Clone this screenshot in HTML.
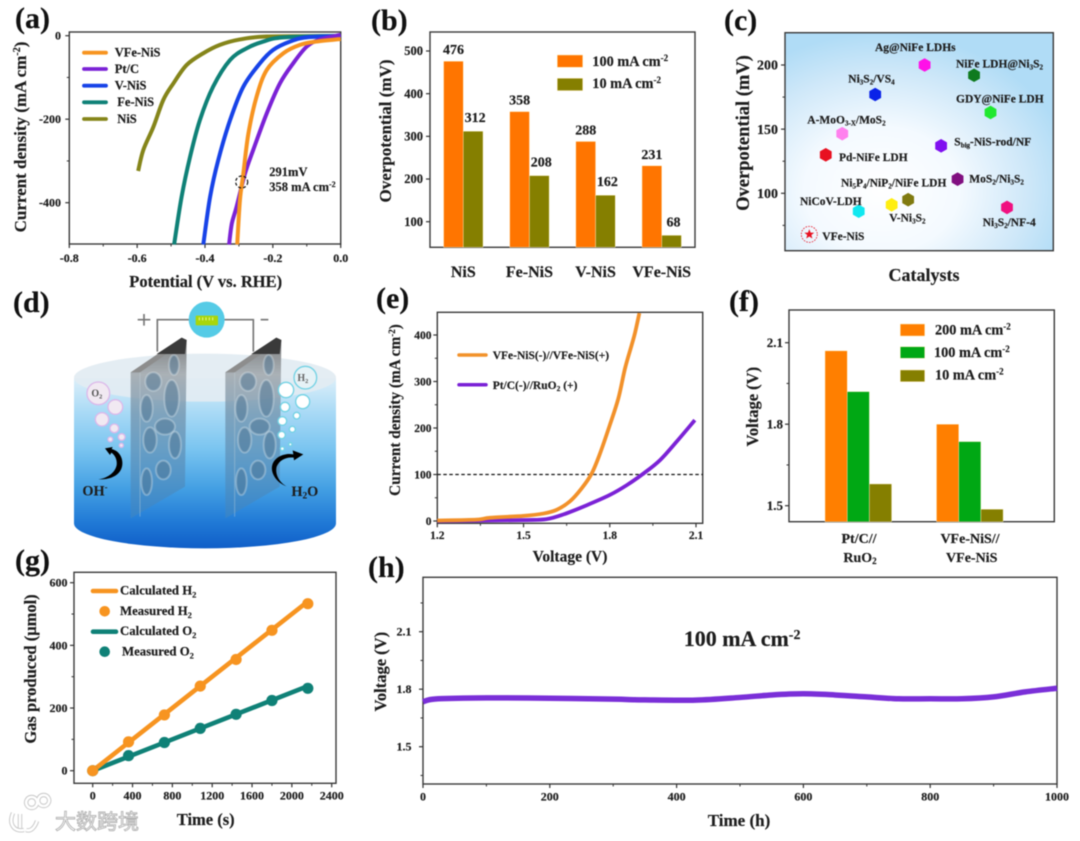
<!DOCTYPE html>
<html lang="en">
<head>
<meta charset="utf-8">
<title>Electrocatalyst performance figure</title>
<style>
html,body{margin:0;padding:0;background:#fff;width:1080px;height:841px;overflow:hidden}
svg{display:block;filter:blur(.45px)}
text{font-family:"Liberation Serif","Noto Serif CJK SC",serif;font-weight:bold;fill:#1d1d1d;stroke:#1d1d1d;stroke-width:.18px}
.pl{font-size:30px;fill:#111}
.sm{font-size:11.5px}
.wm{font-family:"Noto Sans CJK SC","WenQuanYi Zen Hei",sans-serif;font-weight:400;font-size:21px;fill:#fff;stroke:#b0b0b0;stroke-width:.9px}
</style>
</head>
<body>
<svg id="fig" xmlns="http://www.w3.org/2000/svg" width="1080" height="841" viewBox="0 0 1080 841">
<defs>
<radialGradient id="cBg" cx="36%" cy="72%" r="72%">
<stop offset="0" stop-color="#ffffff"/><stop offset=".4" stop-color="#f4faff"/><stop offset=".75" stop-color="#cfe8f9"/><stop offset="1" stop-color="#b0dcf6"/>
</radialGradient>
<linearGradient id="water" x1="0" y1="0" x2="0" y2="1">
<stop offset="0" stop-color="#dceff9"/><stop offset=".2" stop-color="#a9daf6"/><stop offset=".42" stop-color="#79c4f0"/><stop offset=".65" stop-color="#439fe3"/><stop offset=".85" stop-color="#2079d6"/><stop offset="1" stop-color="#0f5ec8"/>
</linearGradient>
<linearGradient id="elec" x1="0" y1="0" x2="0" y2="1">
<stop offset="0" stop-color="#6f6f6f" stop-opacity=".92"/><stop offset=".2" stop-color="#a2a9ae" stop-opacity=".88"/><stop offset=".42" stop-color="#6f8fa8" stop-opacity=".72"/><stop offset="1" stop-color="#3f86c2" stop-opacity=".6"/>
</linearGradient>
<g id="electrode">
<polygon points="392,262 545,160 560,165 555,605 392,700" fill="url(#elec)"/>
<polygon points="392,262 545,158 560,165 420,262" fill="#8d8d8d"/>
<polygon points="470,207 545,158 560,165 555,207" fill="#3a3a3a"/>
<line x1="420" y1="262" x2="420" y2="695" stroke="#c4d2da" stroke-opacity=".4" stroke-width="3"/>
<g fill="#4d7391" fill-opacity=".5" stroke="#dfeaf0" stroke-opacity=".35" stroke-width="6">
<ellipse cx="460" cy="290" rx="24" ry="28"/><ellipse cx="515" cy="340" rx="22" ry="55"/><ellipse cx="440" cy="370" rx="18" ry="40"/>
<ellipse cx="495" cy="425" rx="30" ry="24"/><ellipse cx="450" cy="465" rx="20" ry="38"/><ellipse cx="525" cy="480" rx="18" ry="40"/>
<ellipse cx="490" cy="555" rx="22" ry="28"/><ellipse cx="440" cy="590" rx="16" ry="40"/><ellipse cx="522" cy="240" rx="15" ry="30"/>
</g>
</g>
</defs>

<rect width="1080" height="841" fill="#fff"/>

<g id="illustration" transform="translate(0,285) scale(.33333)">
<path d="M222,280 L222,715 A393,75 0 0 0 1008,715 L1008,280 Z" fill="url(#water)"/>
<ellipse cx="615" cy="278" rx="393" ry="72" fill="#e2ecf2" fill-opacity=".92"/>
<path d="M472,200 V104 H575" fill="none" stroke="#777" stroke-width="5"/>
<path d="M665,104 H760 V200" fill="none" stroke="#777" stroke-width="5"/>
<use href="#electrode"/>
<use href="#electrode" x="284"/>
<circle cx="620" cy="104" r="54" fill="#55cbe6"/>
<rect x="587" y="92" width="67" height="29" rx="3" fill="#a9d60a"/>
<path d="M598,97 V106 M608,97 V106 M618,97 V106 M628,97 V106 M638,97 V106" stroke="#e8f59a" stroke-width="3"/>
<path d="M413,104 H451 M432,87 V122" stroke="#777" stroke-width="5" fill="none"/>
<path d="M782,104 H805" stroke="#777" stroke-width="5" fill="none"/>
<g fill="#f1e9f2" stroke="#dcb8ea" stroke-width="4">
<circle cx="295" cy="325" r="34"/><circle cx="346" cy="366" r="22"/><circle cx="306" cy="403" r="20"/><circle cx="343" cy="430" r="13"/><circle cx="365" cy="456" r="10"/><circle cx="331" cy="463" r="7"/><circle cx="364" cy="481" r="6"/>
</g>
<g fill="#fff" stroke="#72d2e4" stroke-width="4">
<circle cx="916" cy="278" r="34" fill="#e6f2f6"/><circle cx="858" cy="315" r="23"/><circle cx="908" cy="350" r="21"/><circle cx="855" cy="366" r="14"/><circle cx="890" cy="392" r="10"/><circle cx="847" cy="408" r="13"/><circle cx="877" cy="433" r="9"/><circle cx="845" cy="450" r="11"/><circle cx="871" cy="478" r="5"/><circle cx="847" cy="491" r="6"/>
</g>
<path d="M295,583 C350,585 375,555 365,520 C358,500 345,495 335,492 L338,486 L315,490 L330,510 L334,503 C345,510 352,525 350,540 C345,565 320,580 295,583Z" fill="#000"/>
<path d="M862,605 C820,590 800,545 830,520 C845,508 865,505 880,508 L878,496 L910,508 L882,526 L881,518 C860,515 838,525 830,545 C824,570 840,595 862,605Z" fill="#000"/>
<text x="274" y="334" font-size="30" style="fill:#555;stroke:none">O<tspan font-size="19" dy="6">2</tspan></text>
<text x="892" y="288" font-size="30" style="fill:#666;stroke:none">H<tspan font-size="19" dy="6">2</tspan></text>
<text x="247" y="631" font-size="43">OH<tspan font-size="26" dy="-16">-</tspan></text>
<text x="874" y="633" font-size="43">H<tspan font-size="28" dy="7">2</tspan><tspan dy="-7">O</tspan></text>
</g>

<g id="plots"></g>

<text class="pl" x="15" y="28">(a)</text>
<text class="pl" x="371" y="30">(b)</text>
<text class="pl" x="724" y="30">(c)</text>
<text class="pl" x="13" y="312">(d)</text>
<text class="pl" x="376" y="308">(e)</text>
<text class="pl" x="729" y="311">(f)</text>
<text class="pl" x="15" y="570">(g)</text>
<text class="pl" x="368" y="577">(h)</text>

<text x="205.7" y="287" text-anchor="middle" font-size="16.5">Potential (V vs. RHE)</text>
<text transform="translate(26,137) rotate(-90)" text-anchor="middle" font-size="17">Current density (mA cm<tspan font-size="10" dy="-6">-2</tspan><tspan dy="6">)</tspan></text>
<text x="114.7" y="56.5" font-size="12.5">VFe-NiS</text>
<text x="114.7" y="73" font-size="12.5">Pt/C</text>
<text x="114.7" y="89.5" font-size="12.5">V-NiS</text>
<text x="117.3" y="106" font-size="12.5">Fe-NiS</text>
<text x="117.3" y="123" font-size="12.5">NiS</text>
<text x="269.3" y="176" font-size="12.5">291mV</text>
<text x="269.3" y="191" font-size="12.5">358 mA cm<tspan font-size="8" dy="-4">-2</tspan></text>
<circle cx="241.7" cy="182" r="6" fill="none" stroke="#111" stroke-width="1.2" stroke-dasharray="3 2"/>

<text transform="translate(391,131) rotate(-90)" text-anchor="middle" font-size="17">Overpotential (mV)</text>
<text x="592.3" y="66" font-size="14.3">100 mA cm<tspan font-size="9" dy="-5">-2</tspan></text>
<text x="592.3" y="88" font-size="14.3">10 mA cm<tspan font-size="9" dy="-5">-2</tspan></text>

<text transform="translate(749,133) rotate(-90)" text-anchor="middle" font-size="18.5">Overpotential (mV)</text>
<text x="924" y="281" text-anchor="middle" font-size="18">Catalysts</text>
<g>
<text class="sm" x="875" y="51">Ag@NiFe LDHs</text>
<text class="sm" x="956" y="67.7">NiFe LDH@Ni<tspan font-size="7" dy="2">3</tspan><tspan dy="-2">S</tspan><tspan font-size="7" dy="2">2</tspan></text>
<text class="sm" x="848.3" y="82.7">Ni<tspan font-size="7" dy="2">3</tspan><tspan dy="-2">S</tspan><tspan font-size="7" dy="2">2</tspan><tspan dy="-2">/VS</tspan><tspan font-size="7" dy="2">4</tspan></text>
<text class="sm" x="956" y="102.7">GDY@NiFe LDH</text>
<text class="sm" x="807.3" y="123.3">A-MoO<tspan font-size="7" dy="2">3-X</tspan><tspan dy="-2">/MoS</tspan><tspan font-size="7" dy="2">2</tspan></text>
<text class="sm" x="954.3" y="145.7">S<tspan font-size="7" dy="2">big</tspan><tspan dy="-2">-NiS-rod/NF</tspan></text>
<text class="sm" x="839" y="161">Pd-NiFe LDH</text>
<text class="sm" x="841" y="186.7">Ni<tspan font-size="7" dy="2">5</tspan><tspan dy="-2">P</tspan><tspan font-size="7" dy="2">4</tspan><tspan dy="-2">/NiP</tspan><tspan font-size="7" dy="2">2</tspan><tspan dy="-2">/NiFe LDH</tspan></text>
<text class="sm" x="969.3" y="182.3">MoS<tspan font-size="7" dy="2">2</tspan><tspan dy="-2">/Ni</tspan><tspan font-size="7" dy="2">3</tspan><tspan dy="-2">S</tspan><tspan font-size="7" dy="2">2</tspan></text>
<text class="sm" x="800" y="205">NiCoV-LDH</text>
<text class="sm" x="889.3" y="221.7">V-Ni<tspan font-size="7" dy="2">3</tspan><tspan dy="-2">S</tspan><tspan font-size="7" dy="2">2</tspan></text>
<text class="sm" x="982.7" y="226">Ni<tspan font-size="7" dy="2">3</tspan><tspan dy="-2">S</tspan><tspan font-size="7" dy="2">2</tspan><tspan dy="-2">/NF-4</tspan></text>
<text class="sm" x="822.3" y="240">VFe-NiS</text>
</g>

<text transform="translate(400,410) rotate(-90)" text-anchor="middle" font-size="15.3">Current density (mA cm<tspan font-size="9" dy="-5">-2</tspan><tspan dy="5">)</tspan></text>
<text x="570" y="561.7" text-anchor="middle" font-size="15.5">Voltage (V)</text>
<text x="492.7" y="359" font-size="11.5">VFe-NiS(-)//VFe-NiS(+)</text>
<text x="492.7" y="389" font-size="11.5">Pt/C(-)//RuO<tspan font-size="7.5" dy="2">2</tspan><tspan dy="-2"> (+)</tspan></text>

<text transform="translate(758,406.7) rotate(-90)" text-anchor="middle" font-size="16.5">Voltage (V)</text>
<text x="935" y="334.5" font-size="14.3">200 mA cm<tspan font-size="9" dy="-5">-2</tspan></text>
<text x="934" y="357" font-size="14.3">100 mA cm<tspan font-size="9" dy="-5">-2</tspan></text>
<text x="935" y="379.5" font-size="14.3">10 mA cm<tspan font-size="9" dy="-5">-2</tspan></text>
<text x="859" y="543" text-anchor="middle" font-size="14">Pt/C//</text>
<text x="860" y="562" text-anchor="middle" font-size="14">RuO<tspan font-size="9" dy="2">2</tspan></text>
<text x="970" y="543" text-anchor="middle" font-size="14">VFe-NiS//</text>
<text x="971.7" y="562" text-anchor="middle" font-size="14">VFe-NiS</text>

<text transform="translate(36,669) rotate(-90)" text-anchor="middle" font-size="16.5">Gas produced (μmol)</text>
<text x="205.7" y="825" text-anchor="middle" font-size="16.5">Time (s)</text>
<text x="120" y="594.5" font-size="12.8">Calculated H<tspan font-size="8.5" dy="3">2</tspan></text>
<text x="120" y="615" font-size="12.8">Measured H<tspan font-size="8.5" dy="3">2</tspan></text>
<text x="120" y="635" font-size="12.8">Calculated O<tspan font-size="8.5" dy="3">2</tspan></text>
<text x="122" y="655.5" font-size="12.8">Measured O<tspan font-size="8.5" dy="3">2</tspan></text>

<text transform="translate(386,671.7) rotate(-90)" text-anchor="middle" font-size="16.5">Voltage (V)</text>
<text x="739" y="826" text-anchor="middle" font-size="17">Time (h)</text>
<text x="683.7" y="646" font-size="22">100 mA cm<tspan font-size="14" dy="-7">-2</tspan></text>

<g opacity=".95">
<path d="M13,813 C8,825 15,832 24,830 M20,814 V828 M26,830 C31,832 35,827 37,821 M31.6,808 a5.5,5.5 0 1 1 .1,0 M43.6,806 a5.5,5.5 0 1 1 .1,0" fill="none" stroke="#c4c4c4" stroke-width="4.4"/>
<path d="M13,813 C8,825 15,832 24,830 M20,814 V828 M26,830 C31,832 35,827 37,821 M31.6,808 a5.5,5.5 0 1 1 .1,0 M43.6,806 a5.5,5.5 0 1 1 .1,0" fill="none" stroke="#fff" stroke-width="2.6"/>
<text class="wm" x="55" y="829">大数跨境</text>
</g>
</svg>

<script>
// ---- panel (a) polarisation curves ----
const aXTicks = [-0.8, -0.6, -0.4, -0.2, 0];
const aXMinor = [-0.7, -0.5, -0.3, -0.1];
const aYTicks = [0, -200, -400];
const aYMinor = [-100, -300];
const aVfeV = [0, -0.071, -0.12, -0.169, -0.218, -0.248, -0.272, -0.287, -0.297, -0.305];
const aVfeJ = [-8, -14, -22, -42, -82, -146, -234, -330, -394, -500];
const aPtV = [0, -0.061, -0.10, -0.14, -0.179, -0.218, -0.258, -0.282, -0.307, -0.321, -0.329];
const aPtJ = [2, -9, -26, -66, -114, -186, -274, -330, -410, -450, -500];
const aVV = [0, -0.10, -0.149, -0.199, -0.238, -0.287, -0.326, -0.361, -0.385, -0.405];
const aVJ = [-1, -4, -14, -34, -66, -122, -202, -298, -386, -500];
const aFeV = [0, -0.169, -0.228, -0.277, -0.326, -0.376, -0.415, -0.444, -0.469, -0.491];
const aFeJ = [0, -4, -14, -30, -58, -122, -202, -290, -386, -500];
const aNiV = [0, -0.218, -0.297, -0.356, -0.405, -0.454, -0.493, -0.523, -0.552, -0.582, -0.597];
const aNiJ = [-1, -2, -9, -22, -42, -70, -114, -154, -218, -274, -324];

// ---- panel (b) overpotential bars ----
const bCategories = ['NiS', 'Fe-NiS', 'V-NiS', 'VFe-NiS'];
const b100 = [476, 358, 288, 231];
const b10 = [312, 208, 162, 68];
const bYTicks = [100, 200, 300, 400, 500];

// ---- panel (c) catalyst comparison ----
const cValues = [68, 130, 146.5, 86, 177, 91, 95, 200, 137, 111, 192, 163, 89];
const cColors = ['#e81020', '#e81020', '#ff80ee', '#10e8f0', '#0a22e8', '#ffee10', '#807a10', '#ff10e8', '#8010f0', '#800f80', '#0f7a1f', '#20e830', '#f01080'];
const cYTicks = [100, 150, 200];
const cYMinor = [75, 125, 175];

// ---- panel (e) full-cell polarisation ----
const eXTicks = [1.2, 1.5, 1.8, 2.1];
const eXMinor = [1.35, 1.65, 1.95];
const eYTicks = [0, 100, 200, 300, 400];
const eYMinor = [50, 150, 250, 350];
const eVfeV = [1.2, 1.337, 1.383, 1.5, 1.569, 1.615, 1.661, 1.702, 1.737, 1.766, 1.8, 1.83, 1.853, 1.876, 1.888, 1.903];
const eVfeJ = [1, 3, 7, 11, 16, 24, 42, 70, 102, 145, 206, 264, 328, 378, 405, 447];
const ePtV = [1.2, 1.372, 1.51, 1.58, 1.638, 1.72, 1.8, 1.859, 1.917, 1.975, 2.033, 2.096];
const ePtJ = [0, 1, 2, 4, 14, 34, 56, 77, 102, 131, 171, 217];
const eRefLevel = [100];

// ---- panel (f) cell voltage bars ----
const fCategories = ['Pt/C//RuO2', 'VFe-NiS//VFe-NiS'];
const f200 = [2.07, 1.80];
const f100 = [1.92, 1.736];
const f10 = [1.58, 1.487];
const fYTicks = [1.5, 1.8, 2.1];
const fYMinor = [1.65, 1.95];

// ---- panel (g) gas evolution ----
const gXTicks = [0, 400, 800, 1200, 1600, 2000, 2400];
const gXMinor = [200, 600, 1000, 1400, 1800, 2200];
const gYTicks = [0, 200, 400, 600];
const gYMinor = [100, 300, 500];
const gTimes = [0, 360, 720, 1080, 1440, 1800, 2160];
const gMeasH2 = [0, 92, 178, 270, 355, 448, 533];
const gMeasO2 = [0, 48, 90, 135, 180, 224, 263];
const gCalcTimes = [0, 2160];
const gCalcH2 = [0, 540];
const gCalcO2 = [0, 270];

// ---- panel (h) stability ----
const hXTicks = [0, 200, 400, 600, 800, 1000];
const hXMinor = [100, 300, 500, 700, 900];
const hYTicks = [1.5, 1.8, 2.1];
const hYMinor = [1.35, 1.65, 1.95, 2.25];
const hTime = [0, 10, 30, 100, 200, 300, 350, 430, 500, 550, 600, 650, 700, 750, 800, 850, 900, 950, 1000];
const hVolt = [1.734, 1.745, 1.751, 1.755, 1.753, 1.748, 1.744, 1.743, 1.757, 1.77, 1.776, 1.77, 1.76, 1.75, 1.75, 1.75, 1.76, 1.786, 1.805];

const NS = 'http://www.w3.org/2000/svg';
const root = document.getElementById('plots');
function el(tag, attrs) {
  const e = document.createElementNS(NS, tag);
  for (const k in attrs) e.setAttribute(k, attrs[k]);
  root.appendChild(e);
  return e;
}
function linear(d0, d1, r0, r1) {
  return v => r0 + (v - d0) * (r1 - r0) / (d1 - d0);
}
function frame(name, l, t, r, b, fill) {
  const e = el('rect', {x: l, y: t, width: r - l, height: b - t, fill: fill || 'none', stroke: '#3a3a3a', 'stroke-width': 1.4});
  
  
}
function tickX(name, x, ticks, minor, fmt, axisY, labelY, size) {
  ticks.forEach(v => {
    const t = el('line', {x1: x(v), x2: x(v), y1: axisY, y2: axisY + 4, stroke: '#333', 'stroke-width': 1.2});
    
    
    const l = el('text', {x: x(v), y: labelY, 'text-anchor': 'middle', 'font-size': size});
    l.textContent = fmt(v);
    
    
  });
  minor.forEach(v => {
    const t = el('line', {x1: x(v), x2: x(v), y1: axisY, y2: axisY + 2.5, stroke: '#333', 'stroke-width': 1});
    
    
  });
}
function tickY(name, y, ticks, minor, fmt, axisX, labelX, size) {
  ticks.forEach(v => {
    const t = el('line', {x1: axisX - 4, x2: axisX, y1: y(v), y2: y(v), stroke: '#333', 'stroke-width': 1.2});
    
    
    const l = el('text', {x: labelX, y: y(v) + size * 0.33, 'text-anchor': 'end', 'font-size': size});
    l.textContent = fmt(v);
    
    
  });
  minor.forEach(v => {
    const t = el('line', {x1: axisX - 2.5, x2: axisX, y1: y(v), y2: y(v), stroke: '#333', 'stroke-width': 1});
    
    
  });
}
function curve(name, x, y, xs, ys, color, width) {
  const p = xs.map((v, i) => [x(v), y(ys[i])]);
  let d = 'M' + p[0][0].toFixed(2) + ' ' + p[0][1].toFixed(2);
  for (let i = 0; i < p.length - 1; i++) {
    const a = p[Math.max(i - 1, 0)], b = p[i], c = p[i + 1], e2 = p[Math.min(i + 2, p.length - 1)];
    d += ' C' + (b[0] + (c[0] - a[0]) / 6).toFixed(2) + ' ' + (b[1] + (c[1] - a[1]) / 6).toFixed(2) +
         ' ' + (c[0] - (e2[0] - b[0]) / 6).toFixed(2) + ' ' + (c[1] - (e2[1] - b[1]) / 6).toFixed(2) +
         ' ' + c[0].toFixed(2) + ' ' + c[1].toFixed(2);
  }
  const e = el('path', {d: d, fill: 'none', stroke: color, 'stroke-width': width, 'stroke-linejoin': 'round'});
  
  
}
function legendLine(name, x1, x2, y, color, width) {
  const e = el('line', {x1: x1, x2: x2, y1: y, y2: y, stroke: color, 'stroke-width': width, 'stroke-linecap': 'round'});
  
  
}
function swatch(name, x, y, w, h, color) {
  const e = el('rect', {x: x, y: y, width: w, height: h, fill: color, stroke: '#fde9b8', 'stroke-width': .5});
  
  
}
function bar(name, cx, w, top, base, color) {
  const e = el('rect', {x: cx, y: top, width: w, height: base - top, fill: color, stroke: '#fff2c8', 'stroke-width': .4});
  
  
}
const f1 = v => v.toFixed(1);
const f0 = v => String(v);

/* (a) */
const xA = linear(-0.8, 0, 69.3, 340.7);
const yA = linear(0, -400, 35.7, 202.7);
frame('a', 69.3, 32, 340.7, 244);
tickX('a', xA, aXTicks, aXMinor, f1, 244, 262, 12);
tickY('a', yA, aYTicks, aYMinor, f0, 69.3, 61, 12);
curve('a-curve-nis', xA, yA, aNiV, aNiJ, '#85851a', 4);
curve('a-curve-fe-nis', xA, yA, aFeV, aFeJ, '#0f8177', 4);
curve('a-curve-v-nis', xA, yA, aVV, aVJ, '#1743e8', 4);
curve('a-curve-pt-c', xA, yA, aPtV, aPtJ, '#7b22d6', 4);
curve('a-curve-vfe-nis', xA, yA, aVfeV, aVfeJ, '#f79420', 4);
legendLine('a-legend-line-vfe-nis', 84, 106, 52.7, '#f79420', 3.8);
legendLine('a-legend-line-pt-c', 84, 106, 69, '#7b22d6', 3.8);
legendLine('a-legend-line-v-nis', 84, 106, 85.7, '#1743e8', 3.8);
legendLine('a-legend-line-fe-nis', 84, 106, 102.3, '#0f8177', 3.8);
legendLine('a-legend-line-nis', 84, 106, 119, '#85851a', 3.8);

/* (b) */
const xB = linear(0, 3, 463.3, 661.7);
const yB = linear(100, 500, 221.7, 51);
const bBase = 247.3;
const bW = 19.7;
frame('b', 430, 32, 695, bBase);
tickY('b', yB, bYTicks, [], f0, 430, 423, 12.5);
bCategories.forEach((c, i) => {
  bar('b-bar-100-' + c, xB(i) - bW, bW, yB(b100[i]), bBase, '#ff7500');
  bar('b-bar-10-' + c, xB(i), bW, yB(b10[i]), bBase, '#857f00');
  const v1 = el('text', {x: xB(i) - bW / 2, y: yB(b100[i]) - 7, 'text-anchor': 'middle', 'font-size': 14});
  v1.textContent = b100[i];
  
  
  const v2 = el('text', {x: xB(i) + bW / 2 + 2, y: yB(b10[i]) - 9, 'text-anchor': 'middle', 'font-size': 14});
  v2.textContent = b10[i];
  
  
  const l = el('text', {x: xB(i), y: 277, 'text-anchor': 'middle', 'font-size': 16});
  l.textContent = c;
  
  
});
swatch('b-legend-swatch-100', 557.3, 55, 25.4, 12.3, '#ff7500');
swatch('b-legend-swatch-10', 557.3, 78.3, 25.4, 12.3, '#857f00');

/* (c) */
const yC = linear(100, 200, 193.3, 65);
const xC = linear(0, 12, 809.3, 1007);
frame('c', 785, 32.7, 1053.3, 250.7, 'url(#cBg)');
tickY('c', yC, cYTicks, cYMinor, f0, 785, 778, 14);
cValues.forEach((v, i) => {
  const cx = xC(i), cy = yC(v), r = 6.8;
  if (i === 0) {
    const ring = el('circle', {cx: cx, cy: cy, r: 8, fill: 'none', stroke: '#e81020', 'stroke-width': .8, 'stroke-dasharray': '1.6 1.2'});
    
    
    const pts = [];
    for (let k = 0; k < 10; k++) {
      const a = -Math.PI / 2 + k * Math.PI / 5, rr = k % 2 ? 2.2 : 5.2;
      pts.push((cx + rr * Math.cos(a)).toFixed(2) + ',' + (cy + rr * Math.sin(a)).toFixed(2));
    }
    const star = el('polygon', {points: pts.join(' '), fill: cColors[i]});
    
    
  } else {
    const pts = [];
    for (let k = 0; k < 6; k++) {
      const a = -Math.PI / 2 + k * Math.PI / 3;
      pts.push((cx + r * Math.cos(a)).toFixed(2) + ',' + (cy + r * Math.sin(a)).toFixed(2));
    }
    const hex = el('polygon', {points: pts.join(' '), fill: cColors[i]});
    
    
  }
});

/* (e) */
const xE = linear(1.2, 2.1, 437.3, 696);
const yE = linear(0, 400, 521, 335);
frame('e', 437.3, 312.3, 702.7, 523.3);
tickX('e', xE, eXTicks, eXMinor, f1, 523.3, 539, 11.5);
tickY('e', yE, eYTicks, eYMinor, f0, 437.3, 431.5, 11.5);
eRefLevel.forEach(v => {
  const d = el('line', {x1: 437.3, x2: 702.7, y1: yE(v), y2: yE(v), stroke: '#111', 'stroke-width': 1.2, 'stroke-dasharray': '3.5 2.5'});
  
  
});
curve('e-curve-pt', xE, yE, ePtV, ePtJ, '#7b22d6', 3.8);
curve('e-curve-vfe', xE, yE, eVfeV, eVfeJ, '#f2912a', 3.8);
legendLine('e-legend-line-vfe', 459, 486, 355, '#f2912a', 3.5);
legendLine('e-legend-line-pt', 459, 486, 384.7, '#7b22d6', 3.5);

/* (f) */
const yF = linear(1.5, 2.1, 505.7, 342.7);
const xF = linear(0, 1, 858.3, 969.8);
const fBase = 521.7;
const fW = 22.2;
frame('f', 789, 310, 1054.3, fBase);
tickY('f', yF, fYTicks, fYMinor, f1, 789, 783, 13);
fCategories.forEach((c, i) => {
  bar('f-bar-200-' + i, xF(i) - 1.5 * fW, fW, yF(f200[i]), fBase, '#ff7f00');
  bar('f-bar-100-' + i, xF(i) - 0.5 * fW, fW, yF(f100[i]), fBase, '#00a814');
  bar('f-bar-10-' + i, xF(i) + 0.5 * fW, fW, yF(f10[i]), fBase, '#857f00');
});
swatch('f-legend-swatch-200', 900.3, 324, 24.4, 12, '#ff7f00');
swatch('f-legend-swatch-100', 900.3, 346.7, 24.4, 11.6, '#00a814');
swatch('f-legend-swatch-10', 900.3, 370, 24.4, 11.7, '#857f00');

/* (g) */
const xG = linear(0, 2400, 92.7, 331.7);
const yG = linear(0, 600, 770.7, 582.7);
frame('g', 74, 572.3, 336, 783.3);
tickX('g', xG, gXTicks, gXMinor, f0, 783.3, 799.5, 12);
tickY('g', yG, gYTicks, gYMinor, f0, 74, 67.5, 12);
curve('g-calculated-o2', xG, yG, gCalcTimes, gCalcO2, '#0f8177', 4.6);
curve('g-calculated-h2', xG, yG, gCalcTimes, gCalcH2, '#f79420', 4.6);
gTimes.forEach((t, i) => {
  const o = el('circle', {cx: xG(t), cy: yG(gMeasO2[i]), r: 5.6, fill: '#0f8177'});
  
  
});
gTimes.forEach((t, i) => {
  const h = el('circle', {cx: xG(t), cy: yG(gMeasH2[i]), r: 5.6, fill: '#f79420'});
  
  
});
legendLine('g-legend-line-h2', 93, 116, 591, '#f79420', 4.6);
legendLine('g-legend-line-o2', 93, 116, 631.7, '#0f8177', 4.6);
const lm1 = el('circle', {cx: 104.7, cy: 611.3, r: 5.3, fill: '#f79420'});


const lm2 = el('circle', {cx: 104.7, cy: 651.7, r: 5.3, fill: '#0f8177'});



/* (h) */
const xH = linear(0, 1000, 423, 1057);
const yH = linear(1.5, 2.1, 746.7, 631.7);
frame('h', 423, 577.3, 1057, 784);
tickX('h', xH, hXTicks, hXMinor, f0, 784, 800.5, 12);
tickY('h', yH, hYTicks, hYMinor, f1, 423, 411.5, 12);
curve('h-stability-curve', xH, yH, hTime, hVolt, '#7a2fd8', 5.5);
</script>
</body>
</html>
